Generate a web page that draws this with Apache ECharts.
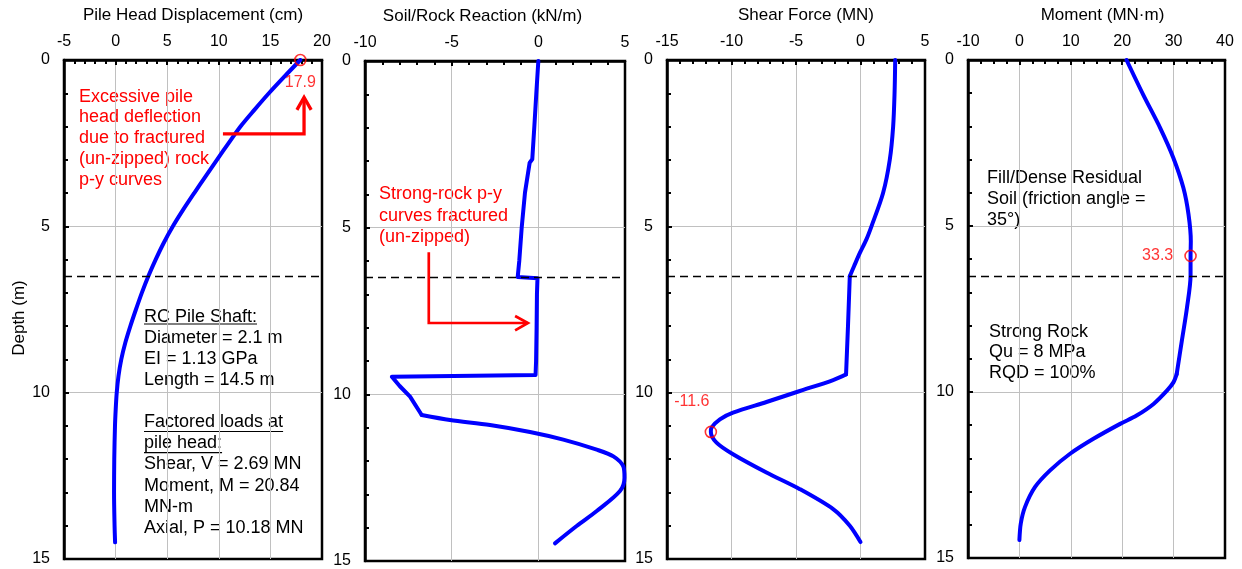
<!DOCTYPE html>
<html>
<head>
<meta charset="utf-8">
<script src="https://cdn.jsdelivr.net/npm/echarts@6/dist/echarts.min.js"></script>
<style>
html,body{margin:0;padding:0;background:#fff;}
#c{width:1242px;height:569px;}
</style>
</head>
<body>
<div id="c"></div>
<script>
// ---------------- DATA ----------------
const panelTitles = ['Pile Head Displacement (cm)', 'Soil/Rock Reaction (kN/m)', 'Shear Force (MN)', 'Moment (MN\u00b7m)'];
const xMins = [-5, -10, -15, -10];
const xMaxs = [20, 5, 5, 40];
const xIntervals = [5, 5, 5, 10];
const xMinorSplits = [5, 5, 5, 4];
const depthTicks = [0, 5, 10, 15];

const dispDepth = [0, 0.5, 1, 1.5, 2, 2.5, 3, 3.5, 4, 4.5, 5, 5.5, 6, 6.5, 7, 7.5, 8, 8.5, 9, 9.5, 10, 10.5, 11, 12, 13, 14, 14.5];
const dispCm    = [17.9, 16.35, 14.85, 13.45, 12.1, 10.95, 9.82, 8.72, 7.62, 6.55, 5.55, 4.66, 3.88, 3.17, 2.54, 1.97, 1.43, 0.94, 0.55, 0.28, 0.11, 0.01, -0.06, -0.13, -0.15, -0.1, -0.05];

const reacDepth = [0, 1, 1.96, 2.95, 3.05, 3.95, 5, 6, 6.48, 6.52, 7, 8, 9, 9.42, 9.47, 9.75, 10.07, 10.62, 10.77, 10.92, 11.13, 11.36, 11.66, 11.86, 12.16, 12.5, 12.9, 13.5, 13.95, 14.47];
const reacKNm   = [0, -0.12, -0.23, -0.35, -0.5, -0.77, -0.96, -1.1, -1.19, -0.05, -0.08, -0.1, -0.13, -0.16, -8.45, -8.0, -7.4, -6.73, -5.1, -2.79, -0.48, 1.44, 3.37, 4.33, 4.9, 4.97, 4.71, 3.37, 2.21, 0.96];

const shearDepth = [0, 1, 2, 3, 4, 5, 5.4, 5.8, 6.2, 6.5, 8, 9.45, 9.62, 9.95, 10.28, 10.6, 10.8, 11.05, 11.18, 11.5, 11.85, 12.4, 12.9, 13.5, 14.0, 14.49];
const shearMN    = [2.69, 2.64, 2.53, 2.27, 1.75, 0.85, 0.45, -0.05, -0.5, -0.83, -0.97, -1.12, -2.12, -4.7, -7.29, -9.88, -10.9, -11.55, -11.6, -11.16, -9.88, -7.29, -4.7, -2.12, -0.83, 0];

const momDepth = [0, 1.05, 2.05, 2.95, 3.85, 4.65, 5.46, 5.9, 6.48, 7.46, 8.46, 9.46, 9.71, 9.96, 10.36, 10.71, 10.96, 11.41, 11.86, 12.36, 12.86, 13.46, 13.96, 14.46];
const momMNm   = [20.84, 24.1, 27.4, 29.96, 31.9, 32.9, 33.35, 33.3, 33.3, 32.6, 31.6, 30.6, 29.96, 28.7, 26.1, 22.8, 19.6, 14.4, 9.86, 5.97, 3.05, 1.1, 0.27, 0];

// index ranges of each curve piece drawn smooth or with sharp corners
const dispPieces  = [[0, 26, true]];
const reacPieces  = [[0, 17, false], [17, 29, true]];
const shearPieces = [[0, 9, true], [9, 11, false], [11, 25, true]];
const momPieces   = [[0, 11, true], [11, 23, true]];

const rockTopDepth = 6.5;
const peakDisp = [17.9, 0];
const peakShear = [-11.6, 11.18];
const peakMoment = [33.3, 5.9];

// annotation arrows (data coordinates)
const arrow1 = [[10.4, 2.22], [18.26, 2.22], [18.26, 1.14]];
const arrow1Head = [[17.57, 1.5], [18.26, 1.12], [18.95, 1.5]];
const arrow2 = [[-6.32, 5.74], [-6.32, 7.86], [-0.62, 7.86]];
const arrow2Head = [[-1.34, 7.65], [-0.6, 7.86], [-1.34, 8.08]];

// ---------------- LAYOUT ----------------
const FONT = '"Liberation Sans", Arial, sans-serif';
const grids = [
  {left: 64, top: 60, width: 258, height: 499},
  {left: 365, top: 61, width: 260, height: 502},
  {left: 667, top: 60, width: 258, height: 499},
  {left: 968, top: 60, width: 257, height: 498}
];
const namePads = [[0,0,0,0],[0,25,0,0],[0,0,0,20],[0,0,0,12]];

const chart = echarts.init(document.getElementById('c'), null, {renderer: 'canvas'});

const gridOpts = grids.map(g => Object.assign({show: true, borderColor: '#000', borderWidth: 2.5, backgroundColor: '#fff', containLabel: false}, g));

const xAxes = panelTitles.map((t, i) => ({
  gridIndex: i, type: 'value', position: 'top',
  min: xMins[i], max: xMaxs[i], interval: xIntervals[i],
  name: t, nameLocation: 'middle', nameGap: 36,
  nameTextStyle: {fontSize: 17, color: '#000', fontFamily: FONT, padding: namePads[i]},
  axisLine: {show: true, onZero: false, lineStyle: {color: '#000', width: 2.5}},
  axisTick: {show: true, inside: true, length: 5, lineStyle: {color: '#000', width: 2}},
  minorTick: {show: true, splitNumber: xMinorSplits[i], length: 4, lineStyle: {color: '#000', width: 2}},
  axisLabel: {fontSize: 16, color: '#000', fontFamily: FONT, margin: 10, showMinLabel: true, showMaxLabel: true},
  splitLine: {show: true, showMinLine: false, showMaxLine: false, lineStyle: {color: '#c0c0c0', width: 1}}
}));

const yAxes = panelTitles.map((t, i) => ({
  gridIndex: i, type: 'value', inverse: true,
  min: depthTicks[0], max: depthTicks[depthTicks.length - 1], interval: depthTicks[1] - depthTicks[0],
  axisLine: {show: true, onZero: false, lineStyle: {color: '#000', width: 2.5}},
  axisTick: {show: true, inside: true, length: 5, lineStyle: {color: '#000', width: 2}},
  minorTick: {show: true, splitNumber: 5, length: 4, lineStyle: {color: '#000', width: 2}},
  axisLabel: {fontSize: 16, color: '#000', fontFamily: FONT, margin: 14, showMinLabel: true, showMaxLabel: true},
  splitLine: {show: true, showMinLine: false, showMaxLine: false, lineStyle: {color: '#c0c0c0', width: 1}}
}));

const pairs = (xs, ys, a, b) => xs.slice(a, b + 1).map((x, k) => [x, ys[a + k]]);
const curves = [
  {x: dispCm, y: dispDepth, pieces: dispPieces},
  {x: reacKNm, y: reacDepth, pieces: reacPieces},
  {x: shearMN, y: shearDepth, pieces: shearPieces},
  {x: momMNm, y: momDepth, pieces: momPieces}
];

const series = [];
curves.forEach((c, i) => {
  c.pieces.forEach((p, j) => {
    const s = {
      type: 'line', xAxisIndex: i, yAxisIndex: i,
      data: pairs(c.x, c.y, p[0], p[1]), showSymbol: false, smooth: p[2] ? 0.3 : false,
      lineStyle: {color: '#0000ff', width: 4, join: 'round', cap: 'round'},
      silent: true, z: 3
    };
    if (j === 0) {
      s.markLine = {
        silent: true, symbol: 'none', label: {show: false},
        lineStyle: {color: '#000', type: [8, 5], width: 1.3},
        data: [{yAxis: rockTopDepth}]
      };
    }
    series.push(s);
  });
});

function peakSeries(idx, pt, label) {
  return {
    type: 'scatter', xAxisIndex: idx, yAxisIndex: idx, z: 5,
    data: [pt], symbol: 'circle', symbolSize: 11,
    itemStyle: {color: 'rgba(0,0,0,0)', borderColor: '#ff0000', borderWidth: 1.6},
    label: Object.assign({show: true, color: '#ff0000', fontSize: 16, fontFamily: FONT,
      formatter: p => p.value[0].toFixed(1)}, label)
  };
}
series.push(peakSeries(0, peakDisp, {position: 'bottom', distance: 8}));
series.push(peakSeries(2, peakShear, {position: 'top', distance: 5, offset: [-19, -11]}));
series.push(peakSeries(3, peakMoment, {position: 'left', distance: 11}));

function arrowSeries(idx, shaft, head, w) {
  return {
    type: 'lines', coordinateSystem: 'cartesian2d', xAxisIndex: idx, yAxisIndex: idx,
    polyline: true, silent: true, z: 4,
    lineStyle: {color: '#ff0000', width: w, opacity: 1, curveness: 0},
    data: [{coords: shaft}, {coords: head}]
  };
}
series.push(arrowSeries(0, arrow1, arrow1Head, 3.3));
series.push(arrowSeries(1, arrow2, arrow2Head, 2.7));

// ---------------- TEXT ANNOTATIONS ----------------
const ctx = document.createElement('canvas').getContext('2d');
function textW(s, size) { ctx.font = size + 'px "Liberation Sans"'; return ctx.measureText(s).width; }

function txt(x, yTop, lines, color, lh) {
  return {type: 'text', x: x, y: yTop, silent: true,
    style: {text: lines.join('\n'), fill: color, fontSize: 18, fontFamily: FONT, lineHeight: lh, align: 'left', verticalAlign: 'top'}};
}
function uline(x, y, s) {
  return {type: 'line', silent: true, shape: {x1: x, y1: y, x2: x + textW(s, 18), y2: y}, style: {stroke: '#000', lineWidth: 1.2}};
}

const pileText = ['RC Pile Shaft:', 'Diameter = 2.1 m', 'EI = 1.13 GPa', 'Length = 14.5 m', '', 'Factored loads at', 'pile head:', 'Shear, V = 2.69 MN', 'Moment, M = 20.84', 'MN-m', 'Axial, P = 10.18 MN'];

const graphics = [
  {type: 'text', x: 19, y: 318, rotation: Math.PI / 2, silent: true,
    style: {text: 'Depth (m)', fill: '#000', fontSize: 17, fontFamily: FONT, align: 'center', verticalAlign: 'middle'}},
  txt(79, 86.3, ['Excessive pile', 'head deflection', 'due to fractured', '(un-zipped) rock', 'p-y curves'], '#ff0000', 20.8),
  txt(144, 306.2, pileText, '#000', 21.1),
  uline(144, 324, pileText[0]),
  uline(144, 431.5, pileText[5]),
  uline(144, 452.6, pileText[6]),
  txt(379, 183.8, ['Strong-rock p-y', 'curves fractured', '(un-zipped)'], '#ff0000', 21.2),
  txt(987, 167, ['Fill/Dense Residual', 'Soil (friction angle =', '35\u00b0)'], '#000', 21.2),
  txt(989, 321.2, ['Strong Rock', 'Qu = 8 MPa', 'RQD = 100%'], '#000', 20.8)
];

chart.setOption({
  animation: false,
  backgroundColor: '#fff',
  textStyle: {fontFamily: FONT},
  grid: gridOpts,
  xAxis: xAxes,
  yAxis: yAxes,
  series: series,
  graphic: graphics
});
</script>
</body>
</html>
